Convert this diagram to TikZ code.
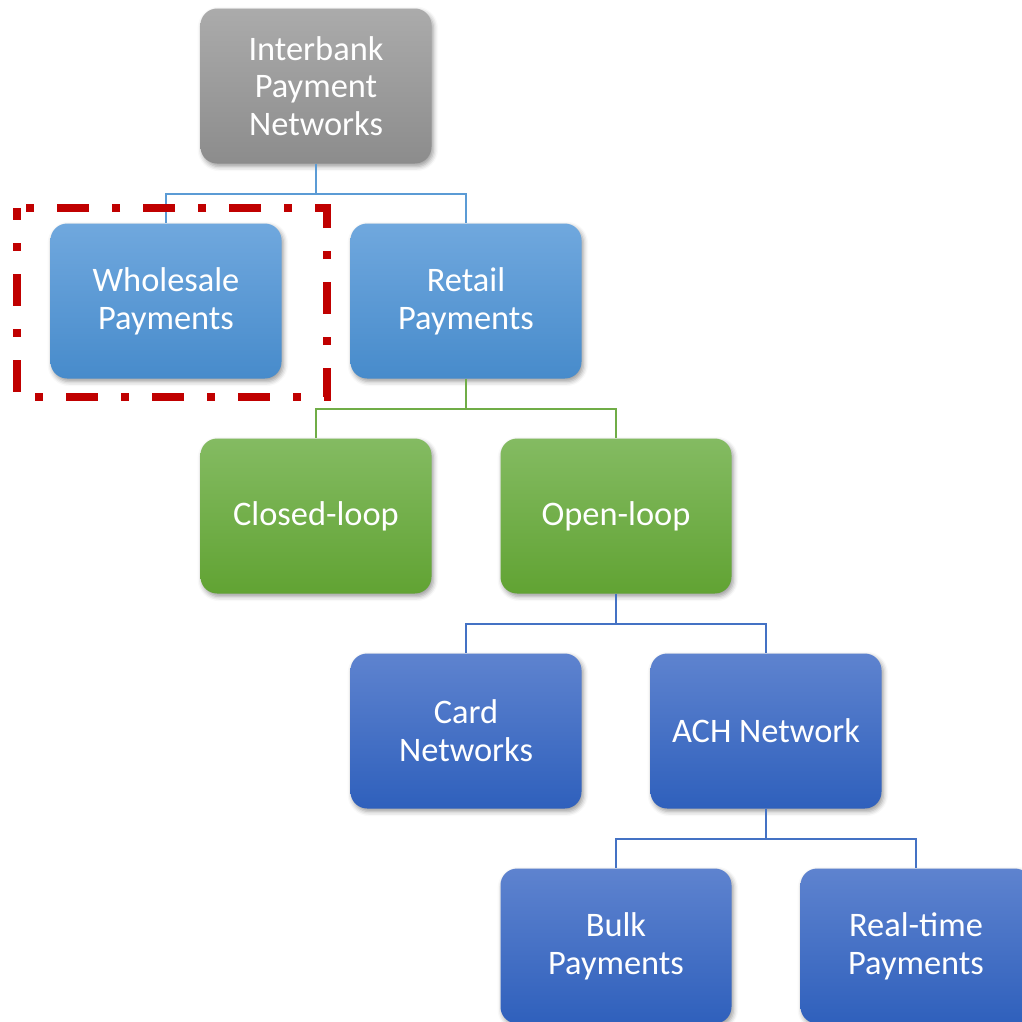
\documentclass[tikz,border=0pt]{standalone}
\usepackage{fontspec}
\setmainfont{Carlito}
\usetikzlibrary{shadows.blur}

\definecolor{grayTop}{HTML}{ABABAB}
\definecolor{grayBot}{HTML}{8C8C8C}
\definecolor{lbTop}{HTML}{70A8DE}
\definecolor{lbBot}{HTML}{478BCB}
\definecolor{grTop}{HTML}{84BB62}
\definecolor{grBot}{HTML}{61A333}
\definecolor{dbTop}{HTML}{5E83CF}
\definecolor{dbBot}{HTML}{2F60BC}
\definecolor{lnLB}{HTML}{5B9BD5}
\definecolor{lnGR}{HTML}{70AD47}
\definecolor{lnDB}{HTML}{4472C4}
\definecolor{frameRed}{HTML}{C00000}

\tikzset{
  box/.style={rounded corners=12.5pt, minimum width=173.25pt, minimum height=116.25pt,
    inner sep=0pt, text=white, align=center,
    font=\fontsize{25.8}{28.3}\selectfont,
    blur shadow={shadow xshift=1.4pt, shadow yshift=-2.2pt, shadow blur radius=3.5pt,
      shadow opacity=40}},
  graybox/.style={box, top color=grayTop, bottom color=grayBot},
  lbbox/.style={box, top color=lbTop, bottom color=lbBot},
  grbox/.style={box, top color=grTop, bottom color=grBot},
  dbbox/.style={box, top color=dbTop, bottom color=dbBot},
  conn/.style={line width=1.5pt},
  redframe/.style={draw=frameRed, line width=5.5pt,
    dash pattern=on 24pt off 17.25pt on 6pt off 17.25pt, dash phase=15pt}
}

\begin{document}
\begin{tikzpicture}[x=0.75pt, y=-0.75pt]
  \useasboundingbox (0,0) rectangle (1022,1022);

  \node[graybox] (ipn)    at (316,86)  {Interbank\\Payment\\Networks};
  \node[lbbox]   (whole)  at (166,301) {Wholesale\\Payments};
  \node[lbbox]   (retail) at (466,301) {Retail\\Payments};
  \node[grbox]   (closed) at (316,516) {Closed-loop};
  \node[grbox]   (open)   at (616,516) {Open-loop};
  \node[dbbox]   (card)   at (466,731) {Card\\Networks};
  \node[dbbox]   (ach)    at (766,731) {ACH Network};
  \node[dbbox]   (bulk)   at (616,946) {Bulk\\Payments};
  \node[dbbox]   (rtp)    at (916,946) {Real-time\\Payments};

  % elbow connectors, parent to children
  \draw[conn, lnLB] (ipn.south) -- ++(0,30) -| (whole.north);
  \draw[conn, lnLB] (ipn.south) -- ++(0,30) -| (retail.north);
  \draw[conn, lnGR] (retail.south) -- ++(0,30) -| (closed.north);
  \draw[conn, lnGR] (retail.south) -- ++(0,30) -| (open.north);
  \draw[conn, lnDB] (open.south) -- ++(0,30) -| (card.north);
  \draw[conn, lnDB] (open.south) -- ++(0,30) -| (ach.north);
  \draw[conn, lnDB] (ach.south) -- ++(0,30) -| (bulk.north);
  \draw[conn, lnDB] (ach.south) -- ++(0,30) -| (rtp.north);

  % highlight frame around the wholesale branch
  \coordinate (frameA) at (17,208);
  \coordinate (frameB) at (327,397);
  \draw[redframe] (frameA) rectangle (frameB);
\end{tikzpicture}
\end{document}
